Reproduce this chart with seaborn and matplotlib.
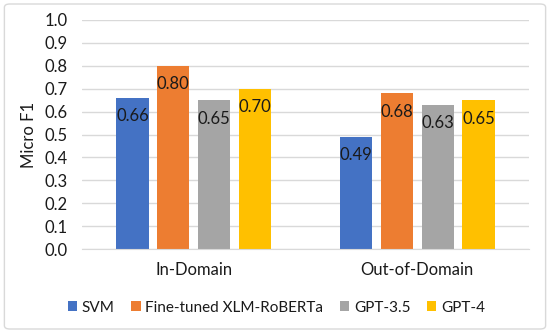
import pandas as pd
import matplotlib.pyplot as plt
from matplotlib.patches import FancyBboxPatch
import seaborn as sns

# chart values
domains = ["In-Domain", "Out-of-Domain"]
models = ["SVM", "Fine-tuned XLM-RoBERTa", "GPT-3.5", "GPT-4"]
svm = [0.66, 0.49]
xlmr = [0.80, 0.68]
gpt35 = [0.65, 0.63]
gpt4 = [0.70, 0.65]
colors = ["#4472C4", "#ED7D31", "#A5A5A5", "#FFC000"]

rows = []
for model, vals in zip(models, [svm, xlmr, gpt35, gpt4]):
    for dom, v in zip(domains, vals):
        rows.append({"domain": dom, "model": model, "f1": v})
df = pd.DataFrame(rows)

sns.set_style("white")
plt.rcParams["font.family"] = ["Lato", "DejaVu Sans"]

fig = plt.figure(figsize=(5.5, 3.33), dpi=100)
ax = fig.add_axes([0.149, 0.252, 0.813, 0.688])

sns.barplot(
    data=df,
    x="domain",
    y="f1",
    hue="model",
    hue_order=models,
    palette=colors,
    width=0.73,
    gap=0.21,
    saturation=1,
    errorbar=None,
    linewidth=0,
    ax=ax,
)

# value labels just inside the top of each bar
for cont in ax.containers:
    ax.bar_label(cont, fmt="%.2f", padding=-19, fontsize=12, color="#1a1a1a")

ax.set_ylim(0, 1.0)
ax.set_yticks([i / 10 for i in range(11)])
ax.set_yticklabels([f"{i / 10:.1f}" for i in range(11)])
ax.yaxis.grid(True, color="#D9D9D9", linewidth=1)
ax.set_axisbelow(True)
for side in ["top", "right", "left"]:
    ax.spines[side].set_visible(False)
ax.spines["bottom"].set_color("#D9D9D9")
ax.tick_params(axis="y", length=0, labelsize=12, colors="#1a1a1a", pad=10)
ax.tick_params(axis="x", length=0, labelsize=12, colors="#1a1a1a", pad=9)
ax.set_xlabel("")
ax.set_ylabel("Micro F1", fontsize=12, color="#1a1a1a", labelpad=6)

ax.legend(
    loc="upper center",
    bbox_to_anchor=(0.435, -0.165),
    ncol=4,
    frameon=False,
    fontsize=11,
    handlelength=0.6,
    handleheight=0.6,
    handletextpad=0.3,
    columnspacing=1.1,
    labelcolor="#1a1a1a",
)

# light border around the whole chart
border = FancyBboxPatch(
    (0.008, 0.012), 0.984, 0.976,
    boxstyle="round,pad=0,rounding_size=0.01",
    transform=fig.transFigure,
    fill=False, edgecolor="#D9D9D9", linewidth=1,
)
fig.patches.append(border)

fig.savefig("out.png", dpi=100)
